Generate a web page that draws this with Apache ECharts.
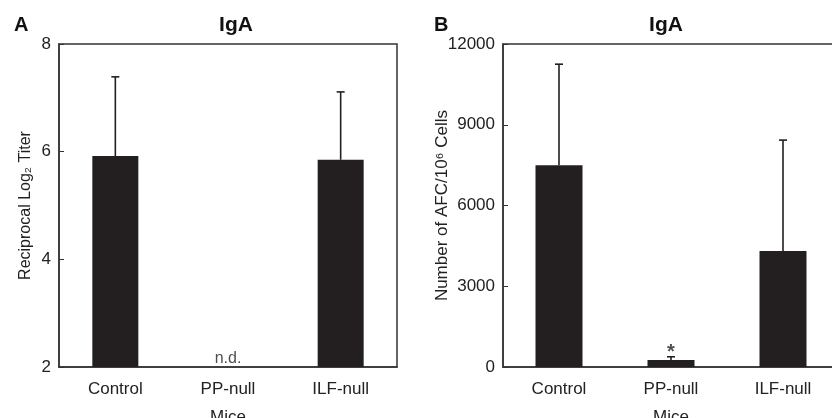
<!DOCTYPE html>
<html>
<head>
<meta charset="utf-8">
<script src="https://cdn.jsdelivr.net/npm/echarts@6/dist/echarts.min.js"></script>
<style>
  html, body { margin: 0; padding: 0; background: #fff; }
  #main { width: 832px; height: 418px; }
</style>
</head>
<body>
<div id="main"></div>
<script>
  // data
  var categories = ['Control', 'PP-null', 'ILF-null'];
  // panel A: reciprocal log2 titer (PP-null not detected)
  var meanA = [5.92, null, 5.85];
  var sdA = [1.47, null, 1.26];
  // panel B: AFC per 10^6 cells
  var meanB = [7500, 260, 4310];
  var sdB = [3750, 120, 4120];
  var ticksA = [2, 8, 2];      // min, max, interval
  var ticksB = [0, 12000, 3000];

  var ink = '#231f20';
  var font = "'Liberation Sans', Arial, sans-serif";

  function errData(mean, sd) {
    var out = [];
    for (var i = 0; i < mean.length; i++) {
      if (mean[i] == null) continue;
      out.push([i, mean[i], mean[i] + sd[i]]);
    }
    return out;
  }

  function errSeries(idx, mean, sd) {
    return {
      type: 'custom',
      xAxisIndex: idx, yAxisIndex: idx,
      z: 3,
      data: errData(mean, sd),
      renderItem: function (params, api) {
        var p0 = api.coord([api.value(0), api.value(1)]);
        var p1 = api.coord([api.value(0), api.value(2)]);
        var st = { stroke: ink, lineWidth: 1.6 };
        return {
          type: 'group',
          children: [
            { type: 'line', shape: { x1: p0[0], y1: p0[1], x2: p1[0], y2: p1[1] }, style: st },
            { type: 'line', shape: { x1: p1[0] - 4, y1: p1[1], x2: p1[0] + 4, y2: p1[1] }, style: st }
          ]
        };
      }
    };
  }

  function xAx(idx) {
    return {
      type: 'category', gridIndex: idx, data: categories,
      name: 'Mice', nameLocation: 'middle', nameGap: 42,
      nameTextStyle: { fontFamily: font, fontSize: 17, color: '#222' },
      axisLine: { lineStyle: { color: '#333', width: 1.5 } },
      axisTick: { inside: true, length: 4, lineStyle: { color: '#333' } },
      axisLabel: { fontFamily: font, fontSize: 17, color: '#222', margin: 14 },
      splitLine: { show: false }
    };
  }

  function yAx(idx, t, name, gap, size) {
    return {
      type: 'value', gridIndex: idx, min: t[0], max: t[1], interval: t[2],
      name: name, nameLocation: 'middle', nameGap: gap, nameRotate: 90,
      nameMoveOverlap: false,
      nameTextStyle: { fontFamily: font, fontSize: size, color: '#222' },
      axisLine: { show: true, lineStyle: { color: '#333', width: 1.5 } },
      axisTick: { show: true, inside: true, length: 5, lineStyle: { color: '#333' } },
      axisLabel: { fontFamily: font, fontSize: 17, color: '#222', margin: 8, formatter: function (v) { return String(v); } },
      splitLine: { show: false }
    };
  }

  var chart = echarts.init(document.getElementById('main'));
  chart.setOption({
    animation: false,
    backgroundColor: '#fff',
    title: [
      { text: 'A', left: 9, top: 10, textStyle: { fontFamily: font, fontSize: 20, fontWeight: 'bold', color: '#111' } },
      { text: 'IgA', left: 231, top: 10, textAlign: 'center', textStyle: { fontFamily: font, fontSize: 21, fontWeight: 'bold', color: '#111' } },
      { text: 'B', left: 429, top: 10, textStyle: { fontFamily: font, fontSize: 20, fontWeight: 'bold', color: '#111' } },
      { text: 'IgA', left: 661, top: 10, textAlign: 'center', textStyle: { fontFamily: font, fontSize: 21, fontWeight: 'bold', color: '#111' } }
    ],
    grid: [
      { left: 59, top: 44, width: 338, height: 323, containLabel: false, outerBoundsMode: 'none',
        show: true, borderColor: '#333', borderWidth: 1.5, backgroundColor: 'transparent' },
      { left: 503, top: 44, width: 336, height: 323, containLabel: false, outerBoundsMode: 'none',
        show: true, borderColor: '#333', borderWidth: 1.5, backgroundColor: 'transparent' }
    ],
    xAxis: [xAx(0), xAx(1)],
    yAxis: [
      yAx(0, ticksA, 'Reciprocal Log₂ Titer', 25, 16),
      yAx(1, ticksB, 'Number of AFC/10⁶ Cells', 52, 17)
    ],
    series: [
      {
        type: 'bar', xAxisIndex: 0, yAxisIndex: 0, data: meanA, barWidth: 46,
        itemStyle: { color: ink }
      },
      errSeries(0, meanA, sdA),
      {
        type: 'scatter', xAxisIndex: 0, yAxisIndex: 0, symbolSize: 0, z: 10,
        data: [[1, ticksA[0]]],
        label: { show: true, position: 'top', distance: 0, formatter: 'n.d.', fontFamily: font, fontSize: 16, color: '#222' }
      },
      {
        type: 'bar', xAxisIndex: 1, yAxisIndex: 1, data: meanB, barWidth: 47,
        itemStyle: { color: ink }
      },
      errSeries(1, meanB, sdB),
      {
        type: 'scatter', xAxisIndex: 1, yAxisIndex: 1, symbolSize: 0, z: 10,
        data: [[1, meanB[1] + sdB[1]]],
        label: { show: true, position: 'top', distance: -6, formatter: '*', fontFamily: font, fontSize: 20, fontWeight: 'bold', color: '#222' }
      }
    ]
  });
</script>
</body>
</html>
